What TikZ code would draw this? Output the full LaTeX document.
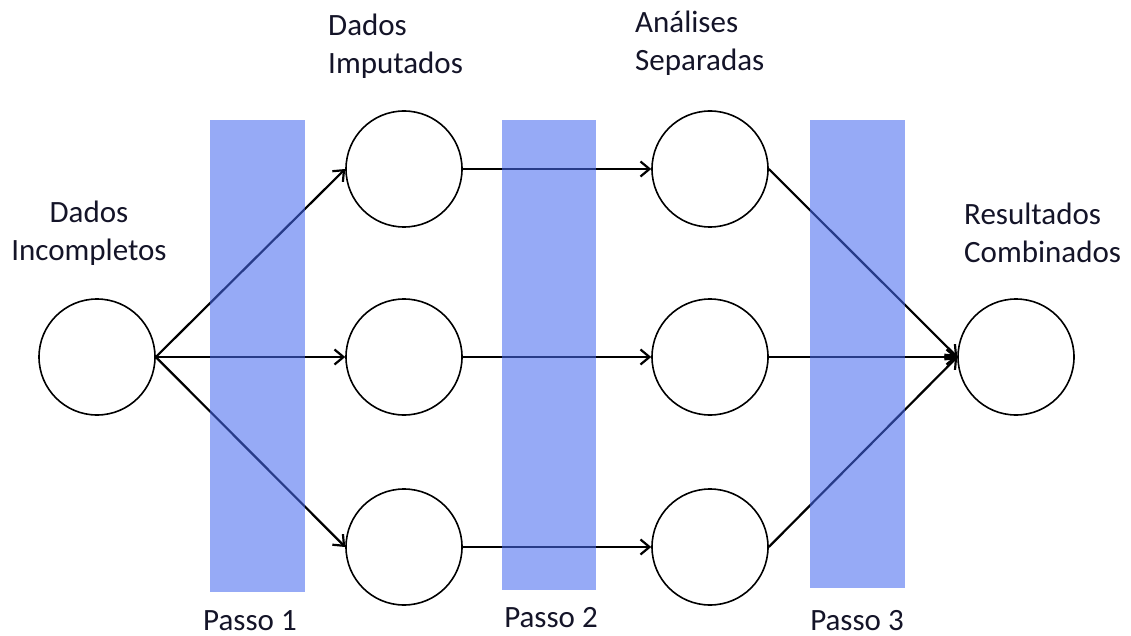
\documentclass[tikz,border=0pt]{standalone}
\usepackage{fontspec}
\setmainfont{Carlito}
\usetikzlibrary{arrows.meta}
\definecolor{barblue}{RGB}{70,105,240}
\definecolor{labelink}{RGB}{20,20,40}
\begin{document}
\begin{tikzpicture}[x=1pt,y=-1pt,
  state/.style={circle,draw=black,line width=1.6pt,fill=white,minimum size=116pt,inner sep=0pt},
  link/.style={line width=2.2pt,-{Straight Barb[length=9pt,width=15pt,line width=2.2pt]}},
  stepbar/.style={fill=barblue,fill opacity=0.57,draw=none},
  caption/.style={font=\fontsize{31}{38}\selectfont,text=labelink,inner sep=0pt,anchor=base},
  steplabel/.style={font=\fontsize{31}{38}\selectfont,text=labelink,inner sep=0pt,anchor=base}]
\useasboundingbox (0,0) rectangle (1131,636);

% circles
\node[state] (l)  at (97,357) {};
\node[state] (m1) at (404,169) {};
\node[state] (m2) at (404,357) {};
\node[state] (m3) at (404,547) {};
\node[state] (s1) at (710,169) {};
\node[state] (s2) at (710,357) {};
\node[state] (s3) at (710,547) {};
\node[state] (r)  at (1016,357) {};

% connectors
\draw[link] (l.east) -- (m1.west);
\draw[link] (l.east) -- (m2.west);
\draw[link] (l.east) -- (m3.west);
\draw[link] (m1.east) -- (s1.west);
\draw[link] (m2.east) -- (s2.west);
\draw[link] (m3.east) -- (s3.west);
\draw[link] (s1.east) -- (r.west);
\draw[link] (s2.east) -- (r.west);
\draw[link] (s3.east) -- (r.west);

% translucent step bands
\path[stepbar] (210,120) rectangle (305,592);
\path[stepbar] (502,120) rectangle (596,590);
\path[stepbar] (810,120) rectangle (905,588);

% column captions (base = baseline of the last line)
\node[caption,align=center] (tl) at (89,260) {Dados\\Incompletos};
\node[caption,align=left,anchor=base west] (tm) at (328,74) {Dados\\Imputados};
\node[caption,align=left,anchor=base west] (ts) at (635,71) {Análises\\Separadas};
\node[caption,align=left,anchor=base west] (tr) at (964,262) {Resultados\\Combinados};

% step labels
\node[steplabel] (p1) at (250,630) {Passo 1};
\node[steplabel] (p2) at (551,627) {Passo 2};
\node[steplabel] (p3) at (857,630) {Passo 3};
\end{tikzpicture}
\end{document}
